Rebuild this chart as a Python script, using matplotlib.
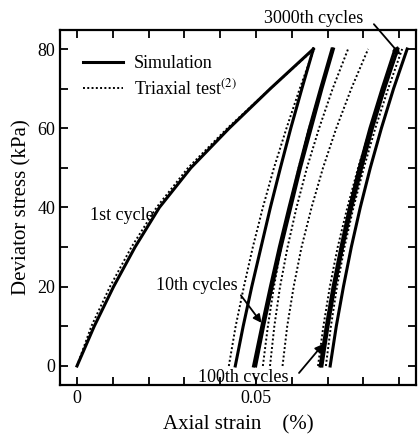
import matplotlib
matplotlib.use("Agg")
import matplotlib.pyplot as plt
from matplotlib.ticker import MultipleLocator

plt.rcParams['font.family'] = ['Liberation Serif', 'DejaVu Serif']
plt.rcParams['mathtext.fontset'] = 'stix'

stress = [0, 10, 20, 30, 40, 50, 60, 70, 80]

# first loading (axial strain, %)
sim_first = [0.0, 0.0048, 0.0102, 0.0162, 0.0230, 0.0318, 0.0425, 0.0540, 0.0660]
test_first = [0.0, 0.0040, 0.0092, 0.0152, 0.0222, 0.0310, 0.0420, 0.0540, 0.0662]

# unloading / reloading branches, simulation
sim_branches = [
    [0.0442, 0.0464, 0.0488, 0.0514, 0.0540, 0.0568, 0.0597, 0.0628, 0.0660],
    [0.0493, 0.0516, 0.0540, 0.0565, 0.0592, 0.0620, 0.0649, 0.0680, 0.0712],
    [0.0499, 0.0521, 0.0545, 0.0570, 0.0597, 0.0624, 0.0654, 0.0684, 0.0716],
    [0.0679, 0.0696, 0.0715, 0.0737, 0.0761, 0.0788, 0.0818, 0.0852, 0.0888],
    [0.0684, 0.0701, 0.0720, 0.0742, 0.0767, 0.0795, 0.0825, 0.0859, 0.0896],
    [0.0707, 0.0724, 0.0744, 0.0766, 0.0791, 0.0819, 0.0850, 0.0884, 0.0922],
]

# unloading / reloading branches, triaxial test
test_branches = [
    [0.0424, 0.0443, 0.0466, 0.0491, 0.0519, 0.0550, 0.0585, 0.0622, 0.0662],
    [0.0519, 0.0533, 0.0550, 0.0570, 0.0593, 0.0619, 0.0648, 0.0681, 0.0716],
    [0.0539, 0.0551, 0.0567, 0.0588, 0.0613, 0.0642, 0.0676, 0.0714, 0.0757],
    [0.0574, 0.0587, 0.0605, 0.0627, 0.0655, 0.0687, 0.0724, 0.0766, 0.0813],
    [0.0673, 0.0688, 0.0706, 0.0728, 0.0755, 0.0785, 0.0819, 0.0856, 0.0898],
    [0.0695, 0.0709, 0.0726, 0.0747, 0.0772, 0.0801, 0.0833, 0.0869, 0.0908],
]

dotted = (0, (1, 1.2))

fig = plt.figure(figsize=(4.18, 4.41), dpi=100)
ax = fig.add_axes([0.1435, 0.127, 0.852, 0.805])

ax.plot(sim_first, stress, color='black', lw=2.2, label='Simulation')
ax.plot(test_first, stress, color='black', lw=1.4, ls=dotted, label='Triaxial test$^{(2)}$')
for b in sim_branches:
    ax.plot(b, stress, color='black', lw=2.2)
for b in test_branches:
    ax.plot(b, stress, color='black', lw=1.4, ls=dotted)

ax.set_xlim(-0.00475, 0.0947)
ax.set_ylim(-4.8, 84.8)
ax.set_xticks([0, 0.05])
ax.set_xticklabels(['0', '0.05'])
ax.xaxis.set_minor_locator(MultipleLocator(0.01))
ax.set_yticks([0, 20, 40, 60, 80])
ax.yaxis.set_minor_locator(MultipleLocator(10))
ax.tick_params(which='both', direction='in', top=True, right=True,
               labelsize=13, width=1.3, length=6)
for s in ax.spines.values():
    s.set_linewidth(1.6)

ax.set_xlabel('Axial strain    (%)', fontsize=15, labelpad=6)
ax.set_ylabel('Deviator stress (kPa)', fontsize=15, labelpad=4)

ax.legend(loc='upper left', frameon=False, fontsize=13, handlelength=2.2,
          handletextpad=0.6, borderaxespad=0.3, bbox_to_anchor=(0.03, 0.965),
          labelspacing=0.35)

ax.text(0.0126, 37.9, '1st cycle', fontsize=13, ha='center', va='center')
ax.text(0.0335, 20.3, '10th cycles', fontsize=13, ha='center', va='center')
ax.annotate('', xy=(0.0520, 10.3), xytext=(0.0453, 18.4),
            arrowprops=dict(arrowstyle='-|>', color='black', lw=1.3, mutation_scale=12))
ax.text(0.0464, -3.0, '100th cycles', fontsize=13, ha='center', va='center')
ax.annotate('', xy=(0.0693, 6.1), xytext=(0.0615, -2.3),
            arrowprops=dict(arrowstyle='-|>', color='black', lw=1.3, mutation_scale=12))
ax.text(0.0662, 87.8, '3000th cycles', fontsize=13, ha='center', va='center', clip_on=False)
ax.annotate('', xy=(0.0908, 78.0), xytext=(0.0824, 86.8),
            arrowprops=dict(arrowstyle='-|>', color='black', lw=1.3, mutation_scale=10),
            annotation_clip=False)

fig.savefig('out.png', dpi=100)
